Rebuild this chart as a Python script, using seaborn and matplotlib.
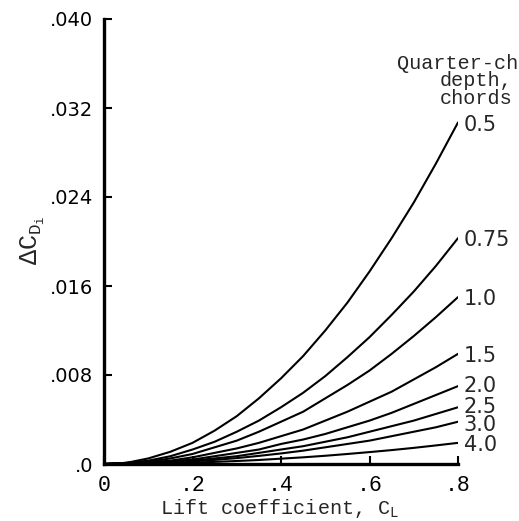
import numpy as np
import pandas as pd
import matplotlib
matplotlib.use("Agg")
import matplotlib.pyplot as plt
import seaborn as sns

# ---- data ----
cl = [0.0, 0.05, 0.1, 0.15, 0.2, 0.25, 0.3, 0.35, 0.4, 0.45, 0.5, 0.55, 0.6, 0.65, 0.7, 0.75, 0.8]
depth_labels = ["0.5", "0.75", "1.0", "1.5", "2.0", "2.5", "3.0", "4.0"]
d_05 = [0, .0001, .0005, .0011, .0019, .0030, .0043, .0059, .0077, .0097, .0120, .0145, .0173, .0203, .0235, .0270, .0307]
d_075 = [0, .0001, .0003, .0007, .0013, .0020, .0029, .0039, .0051, .0064, .0079, .0096, .0114, .0134, .0155, .0178, .0203]
d_10 = [0, .0001, .0002, .0005, .0009, .0015, .0021, .0029, .0038, .0047, .0059, .0071, .0084, .0099, .0115, .0132, .0150]
d_15 = [0, .00004, .00015, .0003, .0006, .0010, .0014, .0019, .0025, .0031, .0039, .0047, .0056, .0065, .0076, .0087, .0099]
d_20 = [0, .00003, .0001, .00025, .0004, .0007, .0010, .0013, .0018, .0022, .0027, .0033, .0039, .0046, .0054, .0062, .0070]
d_25 = [0, .00002, .00008, .00018, .0003, .0005, .0007, .0010, .0013, .0016, .0020, .0024, .0029, .0034, .0039, .0045, .0051]
d_30 = [0, .00001, .00006, .00013, .00024, .00037, .00053, .00073, .00095, .0012, .0015, .0018, .0021, .0025, .0029, .0033, .0038]
d_40 = [0, .00001, .00003, .00007, .00012, .00019, .00027, .00036, .00048, .0006, .00074, .0009, .00107, .00125, .00145, .00167, .0019]
series = [d_05, d_075, d_10, d_15, d_20, d_25, d_30, d_40]

x_ticks = [0.0, 0.2, 0.4, 0.6, 0.8]
x_ticklabels = ["0", ".2", ".4", ".6", ".8"]
y_ticks = [0.0, 0.008, 0.016, 0.024, 0.032, 0.040]
y_ticklabels = [".0", ".008", ".016", ".024", ".032", ".040"]

rows = []
for lab, vals in zip(depth_labels, series):
    for x, y in zip(cl, vals):
        rows.append({"CL": x, "dCD": y, "depth": lab})
df = pd.DataFrame(rows)

sns.set_theme(style="ticks")
plt.rcParams["font.family"] = ["DejaVu Sans"]
plt.rcParams["mathtext.fontset"] = "custom"
plt.rcParams["mathtext.rm"] = "Liberation Mono"
plt.rcParams["mathtext.it"] = "Liberation Mono"
plt.rcParams["mathtext.bf"] = "Liberation Mono"

fig = plt.figure(figsize=(5.19, 5.21), dpi=100)
ax = fig.add_axes([104 / 519, 57 / 521, 354 / 519, 445 / 521])

sns.lineplot(data=df, x="CL", y="dCD", hue="depth", hue_order=depth_labels,
             palette=["black"] * len(depth_labels), legend=False, ax=ax,
             linewidth=1.5, estimator=None, sort=True)

ax.set_xlim(0, 0.8)
ax.set_ylim(0, 0.040)
sns.despine(ax=ax)
for s in ["left", "bottom"]:
    ax.spines[s].set_linewidth(2.4)
    ax.spines[s].set_color("black")

ax.set_xticks(x_ticks)
ax.set_xticklabels(x_ticklabels, fontfamily="Liberation Mono", fontsize=15.5)
ax.set_yticks(y_ticks)
ax.set_yticklabels(y_ticklabels, fontfamily="DejaVu Sans", fontsize=14)
ax.tick_params(axis="both", direction="in", length=6, width=1.5, colors="black")
ax.tick_params(axis="x", pad=8)
ax.tick_params(axis="y", pad=8)
ax.set_xlabel("")
ax.set_ylabel("")

fig.text(280 / 519, 1 - 509 / 521, r"Lift coefficient, $\mathrm{C}_\mathrm{L}$",
         ha="center", va="center", fontfamily="Liberation Mono", fontsize=14.5)
fig.text(33 / 519, 1 - 240 / 521, r"$\Delta\mathrm{C}_{\mathrm{D}_\mathrm{i}}$",
         ha="center", va="center", rotation=90, fontsize=18)

# curve labels at the right ends (small vertical nudges where crowded)
label_dy = [-1.5, -1.5, -1.5, -1.5, 0.0, 0.0, -2.0, -1.5]
for lab, vals, dy in zip(depth_labels, series, label_dy):
    ax.annotate(lab, xy=(cl[-1], vals[-1]), xytext=(4, dy), textcoords="offset points",
                ha="left", va="center", fontsize=15, annotation_clip=False)

fig.text(476 / 519, 1 - 81 / 521, "Quarter-chord\ndepth,\nchords", ha="center",
         va="center", fontfamily="Liberation Mono", fontsize=14.5, linespacing=0.92)

fig.savefig("out.png", dpi=100)
